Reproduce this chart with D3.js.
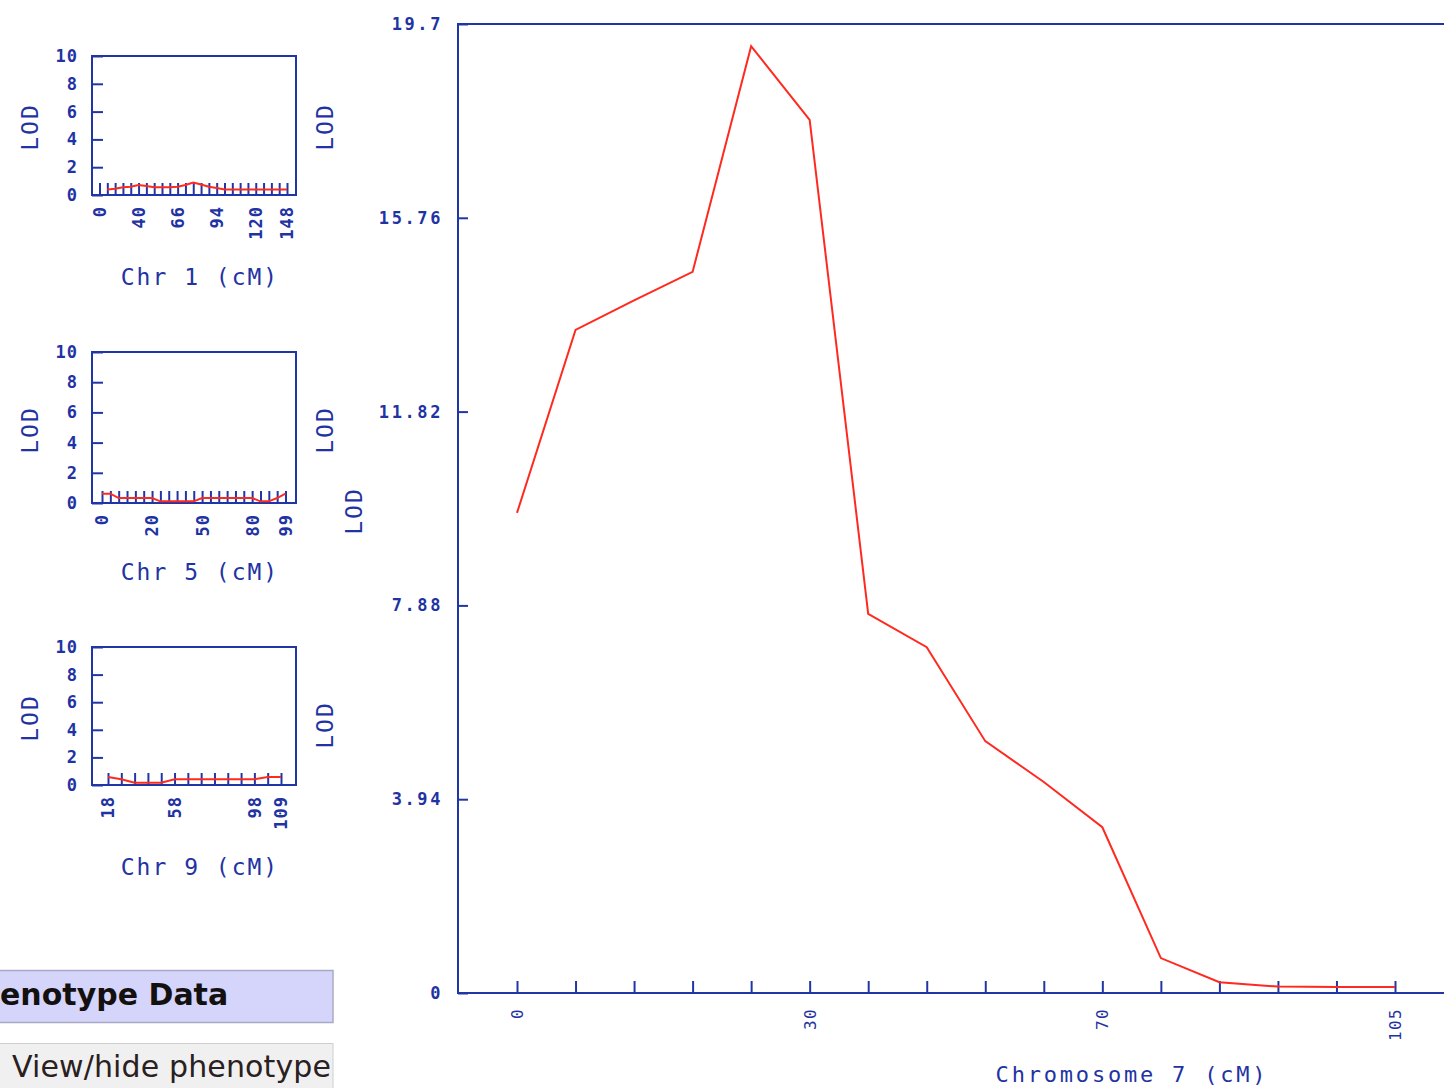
<!DOCTYPE html>
<html><head><meta charset="utf-8">
<script src="https://cdn.jsdelivr.net/npm/d3@7"></script>
<style>body{margin:0;background:#fff}svg{display:block}</style>
</head><body><svg id="c" width="1444" height="1088"></svg>
<script>
// ---------------- data ----------------
const smallYTicks = [0, 2, 4, 6, 8, 10];

const chr1Labels = ["0","","","","","40","","","","","66","","","","","94","","","","","120","","","","148"];
const chr1Lod    = [null,0.39,0.45,0.55,0.6,0.72,0.65,0.55,0.55,0.55,0.6,0.72,0.9,0.75,0.6,0.5,0.39,0.39,0.39,0.39,0.39,0.39,0.39,0.39,0.39];

const chr5Labels = ["0","","","","","","20","","","","","","50","","","","","","80","","","","99"];
const chr5Lod    = [0.62,0.62,0.33,0.33,0.33,0.33,0.33,0.11,0.11,0.11,0.11,0.11,0.33,0.33,0.33,0.33,0.33,0.33,0.33,0.11,0.11,0.33,0.62];

const chr9Labels = ["18","","","","","58","","","","","","98","","109"];
const chr9Lod    = [0.58,0.41,0.17,0.17,0.17,0.41,0.41,0.41,0.41,0.41,0.41,0.41,0.58,0.58];

const chr7Labels = ["0","","","","","30","","","","","70","","","","","105"];
const chr7Lod    = [9.76,13.48,14.08,14.66,19.25,17.75,7.71,7.03,5.12,4.29,3.37,0.71,0.22,0.13,0.12,0.12];
const chr7YTicks = [0, 3.94, 7.88, 11.82, 15.76, 19.7];

const smallTitles = ["Chr 1 (cM)", "Chr 5 (cM)", "Chr 9 (cM)"];
const mainTitle = "Chromosome 7 (cM)";
const yTitle = "LOD";
const phHeader = "enotype Data";
const phButton = "View/hide phenotype";

// ---------------- style ----------------
const BLUE = "#2036a6", TXT = "#1f33a3", RED = "#ff2a1f";
const MONO = "'DejaVu Sans Mono', 'Liberation Mono', monospace";
const svg = d3.select("#c");

function styleAxis(a, fs, ls, bold){
  a.select(".domain").remove();
  a.selectAll("line").attr("stroke", BLUE).attr("stroke-width", 2);
  a.attr("font-family", MONO).attr("font-size", fs);
  a.selectAll("text").attr("fill", TXT).attr("letter-spacing", ls)
    .attr("font-weight", bold ? "bold" : "normal");
}

function label(txt, x, y, fs, ls, rot){
  const t = svg.append("text").text(txt)
    .attr("font-family", MONO).attr("font-size", fs).attr("letter-spacing", ls)
    .attr("fill", TXT).attr("text-anchor", "middle").attr("dominant-baseline", rot ? "central" : "alphabetic");
  if (rot) t.attr("transform", `translate(${x},${y}) rotate(-90)`);
  else t.attr("x", x).attr("y", y);
  return t;
}

function smallChart(c){
  const x = d3.scaleLinear().domain([0, c.labels.length - 1]).range([c.x0, c.x1]);
  const y = d3.scaleLinear().domain([0, 10]).range([c.bottom, c.top]);
  const g = svg.append("g");
  g.append("rect").attr("x", c.left).attr("y", c.top)
    .attr("width", c.right - c.left).attr("height", c.bottom - c.top)
    .attr("fill", "none").attr("stroke", BLUE).attr("stroke-width", 2);
  const ya = g.append("g").attr("transform", `translate(${c.left},0)`)
    .call(d3.axisLeft(y).tickValues(smallYTicks).tickSize(-11).tickPadding(14));
  styleAxis(ya, 17, 1, true);
  const xa = g.append("g").attr("transform", `translate(0,${c.bottom})`)
    .call(d3.axisBottom(x).tickValues(d3.range(c.labels.length)).tickFormat(i => c.labels[i]).tickSize(-12));
  styleAxis(xa, 17, 1, true);
  xa.selectAll("text").attr("transform", "rotate(-90)").attr("x", -11).attr("y", 0)
    .attr("dy", "0.35em").attr("text-anchor", "end");
  const line = d3.line().defined(d => d != null).x((d, i) => x(i)).y(d => y(d));
  g.append("path").datum(c.lod).attr("d", line).attr("fill", "none")
    .attr("stroke", RED).attr("stroke-width", 2);
  label(c.title, 200, c.titleY, 23, 2, false);
  label(yTitle, 30, c.lodY, 23, 2, true);
  label(yTitle, 325, c.lodYR, 23, 2, true);
}

smallChart({labels: chr1Labels, lod: chr1Lod, x0: 99.5, x1: 287, left: 92, right: 296, top: 56, bottom: 195,
  title: smallTitles[0], titleY: 285, lodY: 127, lodYR: 127});
smallChart({labels: chr5Labels, lod: chr5Lod, x0: 102, x1: 285.5, left: 92, right: 296, top: 352, bottom: 503,
  title: smallTitles[1], titleY: 580, lodY: 430, lodYR: 430});
smallChart({labels: chr9Labels, lod: chr9Lod, x0: 108, x1: 281, left: 92, right: 296, top: 647, bottom: 785,
  title: smallTitles[2], titleY: 875, lodY: 718, lodYR: 725});

// ---------------- main chart ----------------
(function(){
  const L = 458, R = 1454, T = 24, B = 993;
  const x = d3.scaleLinear().domain([0, chr7Labels.length - 1]).range([517, 1395]);
  const y = d3.scaleLinear().domain([0, 19.7]).range([B, T]);
  const g = svg.append("g");
  g.append("rect").attr("x", L).attr("y", T).attr("width", R - L).attr("height", B - T)
    .attr("fill", "none").attr("stroke", BLUE).attr("stroke-width", 2);
  const ya = g.append("g").attr("transform", `translate(${L},0)`)
    .call(d3.axisLeft(y).tickValues(chr7YTicks).tickFormat(d => String(d)).tickSize(-10).tickPadding(15));
  styleAxis(ya, 17, 2.6, true);
  const xa = g.append("g").attr("transform", `translate(0,${B})`)
    .call(d3.axisBottom(x).tickValues(d3.range(chr7Labels.length)).tickFormat(i => chr7Labels[i]).tickSize(-12));
  styleAxis(xa, 16, 1.4, false);
  xa.selectAll("text").attr("transform", "rotate(-90)").attr("x", -15).attr("y", 0)
    .attr("dy", "0.35em").attr("text-anchor", "end");
  const line = d3.line().x((d, i) => x(i)).y(d => y(d));
  g.append("path").datum(chr7Lod).attr("d", line).attr("fill", "none")
    .attr("stroke", RED).attr("stroke-width", 2);
  label(mainTitle, 1132, 1082, 22, 2.8, false);
  label(yTitle, 354, 511, 23, 2, true);
})();

// ---------------- phenotype widgets ----------------
(function(){
  const g = svg.append("g");
  g.append("rect").attr("x", -2).attr("y", 970.5).attr("width", 335).attr("height", 52)
    .attr("fill", "#d5d5fb").attr("stroke", "#a9a9c6").attr("stroke-width", 1.5);
  g.append("text").attr("x", 0).attr("y", 1005).attr("font-family", "'DejaVu Sans', Verdana, sans-serif")
    .attr("font-weight", "bold").attr("font-size", 30).attr("fill", "#141010").text(phHeader);
  g.append("rect").attr("x", -2).attr("y", 1043.5).attr("width", 335).attr("height", 50)
    .attr("fill", "#f0f0f0").attr("stroke", "#cfcfcf").attr("stroke-width", 1);
  g.append("text").attr("x", 12).attr("y", 1077).attr("font-family", "'DejaVu Sans', Verdana, sans-serif")
    .attr("font-size", 30).attr("textLength", 319).attr("fill", "#2a2020").text(phButton);
})();
</script></body></html>
